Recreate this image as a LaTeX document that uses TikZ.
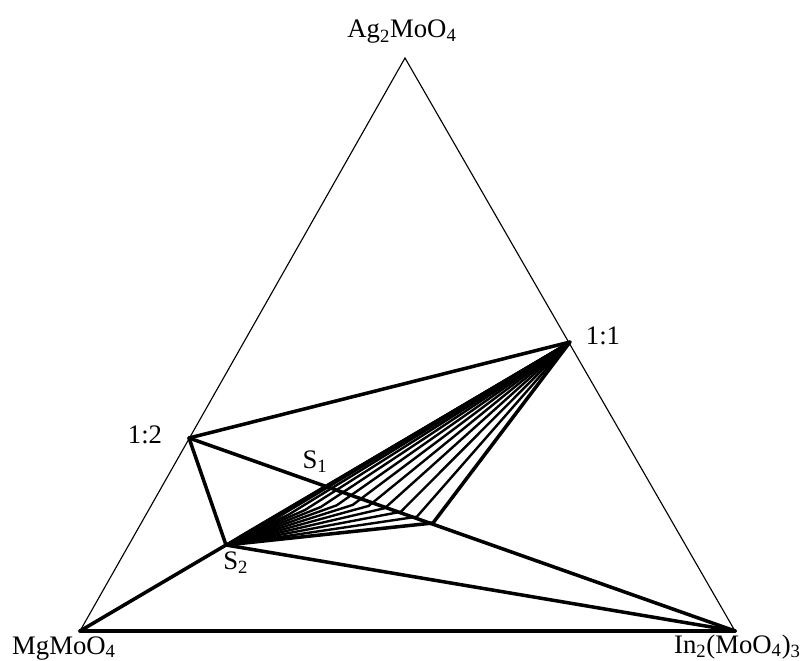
\documentclass[tikz,border=0pt]{standalone}
\usepackage{fontspec}
\setmainfont{Liberation Serif}
\usetikzlibrary{calc, positioning}

\begin{document}
\begin{tikzpicture}[x=0.025cm, y=-0.025cm]
    % Define the styles for the lines and the labels
    \tikzset{
        side/.style={line width=0.8pt},
        tie/.style={line width=2.5pt, line join=round, line cap=round},
        fan/.style={line width=1.7pt, line join=round},
        lbl/.style={font=\fontsize{19}{22}\selectfont, inner sep=0pt, anchor=base}
    }
    \useasboundingbox (0,0) rectangle (802,661);

    % Corners of the triangle
    \coordinate (ag) at (405,58);
    \coordinate (mg) at (80,631);
    \coordinate (in) at (735,631);

    % Compounds and points inside
    \coordinate (c11) at (570,342);
    \coordinate (c12) at (189,438);
    \coordinate (s2) at (226,545);
    \coordinate (p) at (433,523);
    \coordinate (ctl) at (328,478);

    % Draw the triangle
    \draw[side] (mg) -- (ag) -- (in);
    \draw[tie] (mg) -- (in);

    % Draw the tie lines
    \draw[tie] (c12) -- (c11);
    \draw[tie] (c12) -- (in);
    \draw[tie] (c12) -- (s2) -- (mg);
    \draw[tie] (s2) -- (in);
    \draw[tie] (s2) -- (p) -- (c11);
    \draw[fan] (s2) -- (c11);

    % Draw the fan between S2 and 1:1
    \foreach \k in {1,...,12} {
        \pgfmathsetmacro\t{\k/13}
        \coordinate (qa) at ($(s2)!\t!(ctl)$);
        \coordinate (qb) at ($(ctl)!\t!(p)$);
        \coordinate (q\k) at ($(qa)!\t!(qb)$);
        \draw[fan] (s2) -- (q\k) -- (c11);
    }

    % Labels
    \node[lbl] (lag) at (402,38) {Ag\textsubscript{2}MoO\textsubscript{4}};
    \node[lbl] (lmg) at (64,654) {MgMoO\textsubscript{4}};
    \node[lbl, anchor=base east] (lin) at (801,653) {In\textsubscript{2}(MoO\textsubscript{4})\textsubscript{3}};
    \node[lbl] (l12) at (145,444) {1:2};
    \node[lbl] (l11) at (603,345) {1:1};
    \node[lbl] (ls1) at (315,469) {S\textsubscript{1}};
    \node[lbl, anchor=base west] (ls2) at (223,569) {S\textsubscript{2}};
\end{tikzpicture}
\end{document}
